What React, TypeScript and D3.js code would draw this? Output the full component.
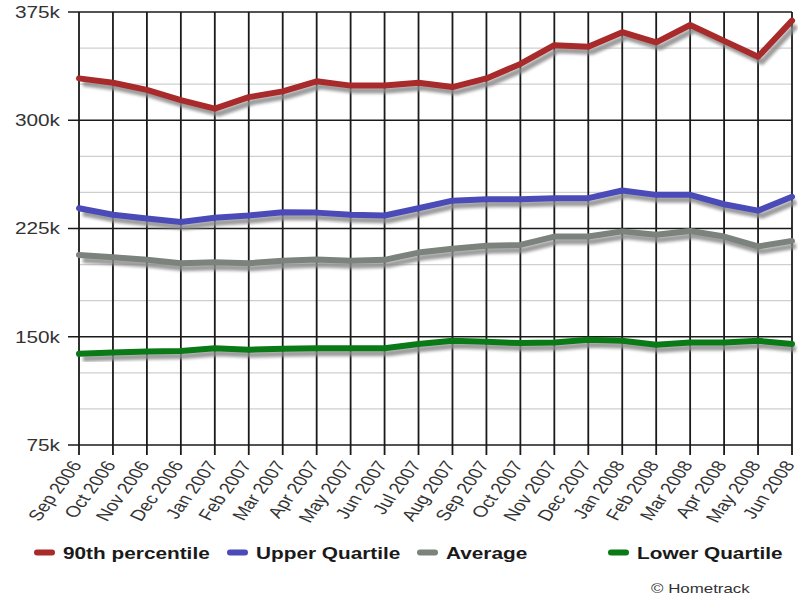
import React from "react";
import * as d3 from "d3";

// Monthly house price bands, in thousands of pounds
const months = [
  "Sep 2006", "Oct 2006", "Nov 2006", "Dec 2006", "Jan 2007", "Feb 2007",
  "Mar 2007", "Apr 2007", "May 2007", "Jun 2007", "Jul 2007", "Aug 2007",
  "Sep 2007", "Oct 2007", "Nov 2007", "Dec 2007", "Jan 2008", "Feb 2008",
  "Mar 2008", "Apr 2008", "May 2008", "Jun 2008",
];

const percentile90 = [
  329, 326, 321, 314, 308, 316, 320, 327, 324, 324, 326, 323,
  329, 339, 352, 351, 361, 354, 366, 355, 344, 369,
];
const upperQuartile = [
  239, 234.5, 232, 229.5, 232.5, 234, 236.3, 236, 234.5, 234, 239, 244.3,
  245.3, 245.3, 246, 246, 251.3, 248.3, 248.3, 241.8, 237.4, 247,
];
const average = [
  206.7, 205, 203.3, 201, 201.7, 201, 202.6, 203.5, 202.6, 203.3, 208.3, 211,
  213, 213.6, 219.4, 219.4, 223, 220.6, 223.3, 219.4, 212.6, 216.4,
];
const lowerQuartile = [
  138.2, 139.1, 139.8, 140.2, 142, 141, 141.6, 142, 142, 142, 145, 147.2,
  146.5, 145.6, 146, 147.9, 147.2, 144.4, 146, 146, 147.2, 145,
];

const majorTicks = [75, 150, 225, 300, 375];
const minorTicks = d3.range(75, 376, 25);

const seriesNames = ["90th percentile", "Upper Quartile", "Average", "Lower Quartile"];
const seriesValues = [percentile90, upperQuartile, average, lowerQuartile];
const seriesColors = ["#a82a2a", "#4a4ab8", "#7c827c", "#0a7a16"];
const legendSwatchX = [35, 228, 418, 609];

const W = 798;
const H = 598;
const FONT = "'Liberation Sans', Arial, Helvetica, sans-serif";
const STRETCH = 1.3;

export default function App() {
  const x = d3.scalePoint<string>().domain(months).range([79, 792]);
  const y = d3.scaleLinear().domain([75, 375]).range([445, 12]);
  const line = d3
    .line<number>()
    .x((_, i) => x(months[i]) as number)
    .y((d) => y(d));

  const left = 68;
  const right = 792;

  return (
    <svg
      width={W}
      height={H}
      style={{ position: "absolute", left: 0, top: 0, background: "#fff" }}
    >
      <defs>
        <filter id="shadowBlur" x="-10%" y="-20%" width="120%" height="140%">
          <feGaussianBlur stdDeviation="1.6" />
        </filter>
      </defs>

      {/* minor gridlines */}
      {minorTicks
        .filter((t) => !majorTicks.includes(t))
        .map((t) => (
          <line
            key={"mn" + t}
            x1={79}
            x2={right}
            y1={y(t)}
            y2={y(t)}
            stroke="#cfcfcf"
            strokeWidth={1.4}
          />
        ))}

      {/* vertical month lines with ticks below the axis */}
      {months.map((m) => (
        <line
          key={"v" + m}
          x1={x(m)}
          x2={x(m)}
          y1={y(375)}
          y2={y(75) + 10}
          stroke="#1a1a1a"
          strokeWidth={1.8}
        />
      ))}

      {/* major gridlines with ticks to the left */}
      {majorTicks.map((t) => (
        <line
          key={"mj" + t}
          x1={left}
          x2={right}
          y1={y(t)}
          y2={y(t)}
          stroke="#1a1a1a"
          strokeWidth={1.7}
        />
      ))}

      {/* y tick labels */}
      {majorTicks.map((t) => (
        <text
          key={"yl" + t}
          transform={`translate(60,${y(t)}) scale(${STRETCH},1)`}
          textAnchor="end"
          dy="0.36em"
          fontFamily={FONT}
          fontSize={16}
          fill="#333"
        >
          {t + "k"}
        </text>
      ))}

      {/* x tick labels */}
      {months.map((m) => (
        <text
          key={"xl" + m}
          transform={`translate(${(x(m) as number) - 3},${y(75) + 17}) scale(${STRETCH},1) rotate(-60)`}
          textAnchor="end"
          dy="0.36em"
          fontFamily={FONT}
          fontSize={15.5}
          fill="#333"
        >
          {m}
        </text>
      ))}

      {/* series shadows */}
      {seriesValues.map((vals, i) => (
        <path
          key={"sh" + i}
          d={line(vals) as string}
          transform="translate(4,5)"
          fill="none"
          stroke="#8a8a8a"
          strokeWidth={6}
          strokeLinejoin="round"
          opacity={0.85}
          filter="url(#shadowBlur)"
        />
      ))}

      {/* series lines */}
      {seriesValues.map((vals, i) => (
        <path
          key={"ln" + i}
          d={line(vals) as string}
          fill="none"
          stroke={seriesColors[i]}
          strokeWidth={6}
          strokeLinejoin="round"
          strokeLinecap="round"
        />
      ))}

      {/* legend */}
      {seriesNames.map((name, i) => {
        const sx = legendSwatchX[i];
        return (
          <g key={"lg" + i}>
            <line
              x1={sx + 5}
              x2={sx + 24}
              y1={558}
              y2={558}
              stroke="#8a8a8a"
              strokeWidth={6}
              strokeLinecap="round"
              filter="url(#shadowBlur)"
            />
            <line
              x1={sx + 2}
              x2={sx + 17}
              y1={552.5}
              y2={552.5}
              stroke={seriesColors[i]}
              strokeWidth={6}
              strokeLinecap="round"
            />
            <text
              transform={`translate(${sx + 28},559) scale(${STRETCH},1)`}
              fontFamily={FONT}
              fontWeight="bold"
              fontSize={16}
              fill="#1a1a1a"
            >
              {name}
            </text>
          </g>
        );
      })}

      <text
        transform={`translate(651,593) scale(${STRETCH},1)`}
        fontFamily={FONT}
        fontSize={13}
        fill="#333"
      >
        © Hometrack
      </text>
    </svg>
  );
}
